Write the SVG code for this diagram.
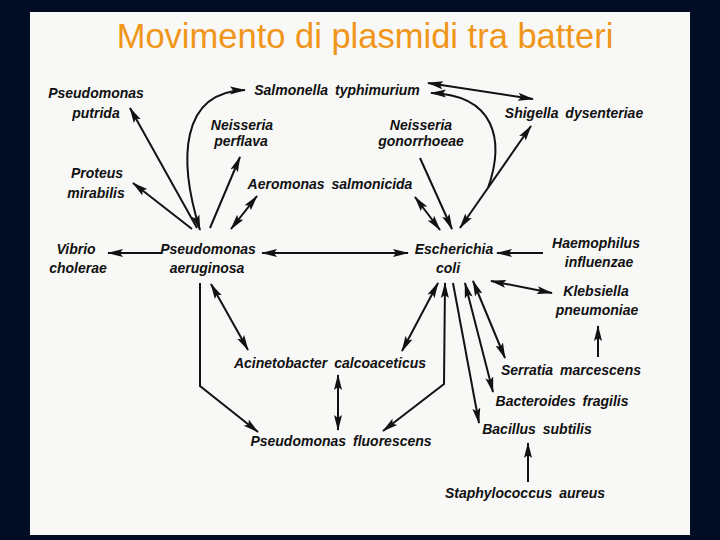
<svg xmlns="http://www.w3.org/2000/svg" width="720" height="540" viewBox="0 0 720 540">
<style>
.lb{font-family:"Liberation Sans",Arial,sans-serif;font-style:italic;font-weight:bold;font-size:14px;fill:#111;text-anchor:middle;word-spacing:3px}
.title{font-family:"Liberation Sans",Arial,sans-serif;font-size:34.5px;fill:#F0961A;text-anchor:middle}
.c{fill:none;stroke:#121212;stroke-width:2}
</style>
<defs>
<marker id="ah" markerUnits="userSpaceOnUse" markerWidth="17" markerHeight="10" refX="15" refY="4" orient="auto-start-reverse" viewBox="0 0 17 8">
<path d="M0,0 L16,4 L0,8 L3,4 z" fill="#121212"/>
</marker>
</defs>
<rect x="0" y="0" width="720" height="540" fill="#020c22"/>
<rect x="30" y="12" width="660" height="523" fill="#f8f8f7"/>
<text class="title" x="365" y="48">Movimento di plasmidi tra batteri</text>
<g id="connectors">
<line class="c" x1="197" y1="228" x2="130" y2="108" marker-end="url(#ah)"/>
<line class="c" x1="192" y1="229" x2="133" y2="183" marker-end="url(#ah)"/>
<path class="c" d="M200,230 C178,160 180,92 245,90" marker-start="url(#ah)" marker-end="url(#ah)"/>
<line class="c" x1="210" y1="228" x2="240" y2="157" marker-end="url(#ah)"/>
<line class="c" x1="231" y1="229" x2="257" y2="196" marker-start="url(#ah)" marker-end="url(#ah)"/>
<line class="c" x1="162" y1="253" x2="108" y2="253" marker-end="url(#ah)"/>
<line class="c" x1="262" y1="253" x2="408" y2="253" marker-start="url(#ah)" marker-end="url(#ah)"/>
<line class="c" x1="543" y1="253" x2="497" y2="253" marker-end="url(#ah)"/>
<line class="c" x1="491" y1="281" x2="552" y2="293" marker-start="url(#ah)" marker-end="url(#ah)"/>
<line class="c" x1="598" y1="357" x2="598" y2="326" marker-end="url(#ah)"/>
<line class="c" x1="528" y1="482" x2="528" y2="443" marker-end="url(#ah)"/>
<line class="c" x1="438" y1="283" x2="402" y2="351" marker-start="url(#ah)" marker-end="url(#ah)"/>
<polyline class="c" points="445,283 444,384 383,431" marker-start="url(#ah)" marker-end="url(#ah)"/>
<line class="c" x1="453" y1="283" x2="479" y2="423" marker-end="url(#ah)"/>
<line class="c" x1="465" y1="283" x2="493" y2="392" marker-start="url(#ah)" marker-end="url(#ah)"/>
<line class="c" x1="473" y1="281" x2="505" y2="358" marker-start="url(#ah)" marker-end="url(#ah)"/>
<polyline class="c" points="200,283 200,386 258,432" marker-end="url(#ah)"/>
<line class="c" x1="211" y1="284" x2="248" y2="350" marker-start="url(#ah)" marker-end="url(#ah)"/>
<line class="c" x1="338" y1="375" x2="338" y2="430" marker-start="url(#ah)" marker-end="url(#ah)"/>
<line class="c" x1="420" y1="158" x2="452" y2="229" marker-end="url(#ah)"/>
<line class="c" x1="415" y1="197" x2="440" y2="230" marker-start="url(#ah)" marker-end="url(#ah)"/>
<line class="c" x1="460" y1="228" x2="531" y2="126" marker-start="url(#ah)" marker-end="url(#ah)"/>
<path class="c" d="M431,93 C495,95 505,140 488,188" marker-start="url(#ah)"/>
<line class="c" x1="428" y1="83" x2="533" y2="99" marker-start="url(#ah)" marker-end="url(#ah)"/>
</g>
<g id="p-putrida"><text class="lb" x="96" y="98">Pseudomonas</text><text class="lb" x="96" y="118">putrida</text></g>
<g id="p-mirabilis"><text class="lb" x="97" y="178">Proteus</text><text class="lb" x="96" y="198">mirabilis</text></g>
<g id="salmonella"><text class="lb" x="337" y="95">Salmonella typhimurium</text></g>
<g id="n-perflava"><text class="lb" x="242" y="130">Neisseria</text><text class="lb" x="241" y="146">perflava</text></g>
<g id="aeromonas"><text class="lb" x="330" y="189">Aeromonas salmonicida</text></g>
<g id="n-gonorrhoeae"><text class="lb" x="421" y="130">Neisseria</text><text class="lb" x="421" y="146">gonorrhoeae</text></g>
<g id="shigella"><text class="lb" x="574" y="118">Shigella dysenteriae</text></g>
<g id="vibrio"><text class="lb" x="76" y="254">Vibrio</text><text class="lb" x="78" y="273">cholerae</text></g>
<g id="p-aeruginosa"><text class="lb" x="208" y="254">Pseudomonas</text><text class="lb" x="207" y="273">aeruginosa</text></g>
<g id="e-coli"><text class="lb" x="454" y="254">Escherichia</text><text class="lb" x="448" y="273">coli</text></g>
<g id="haemophilus"><text class="lb" x="596" y="248">Haemophilus</text><text class="lb" x="599" y="267">influenzae</text></g>
<g id="klebsiella"><text class="lb" x="596" y="296">Klebsiella</text><text class="lb" x="597" y="315">pneumoniae</text></g>
<g id="acinetobacter"><text class="lb" x="330" y="368">Acinetobacter calcoaceticus</text></g>
<g id="p-fluorescens"><text class="lb" x="341" y="446">Pseudomonas fluorescens</text></g>
<g id="serratia"><text class="lb" x="571" y="375">Serratia marcescens</text></g>
<g id="bacteroides"><text class="lb" x="562" y="406">Bacteroides fragilis</text></g>
<g id="bacillus"><text class="lb" x="537" y="434">Bacillus subtilis</text></g>
<g id="staphylococcus"><text class="lb" x="525" y="498">Staphylococcus aureus</text></g>
</svg>
